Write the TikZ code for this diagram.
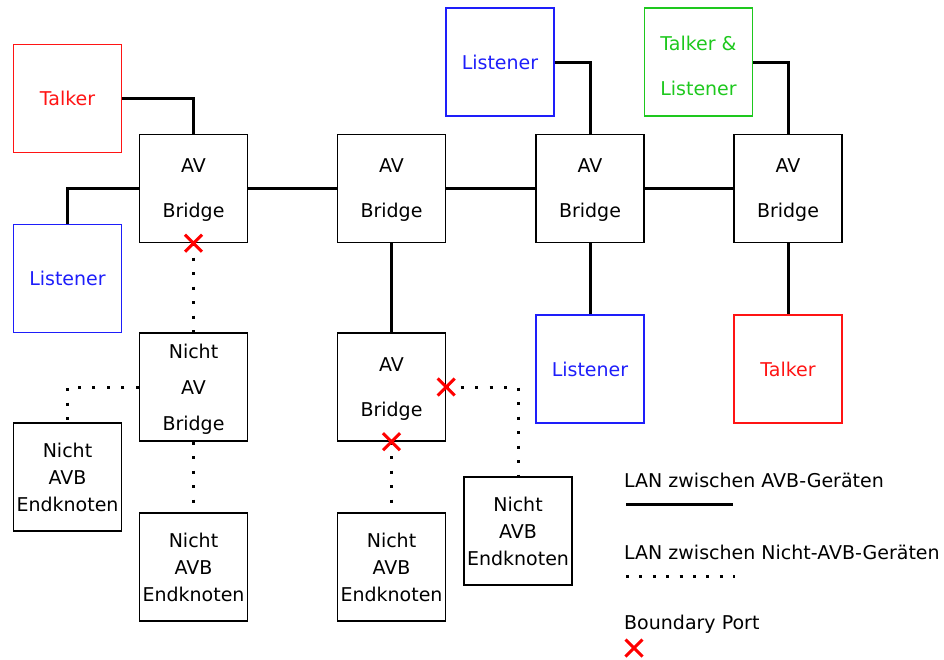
\documentclass[tikz,border=0pt]{standalone}
\usepackage{fontspec}
\setmainfont{DejaVu Sans}
\usetikzlibrary{shapes.misc}
\definecolor{tkred}{RGB}{255,20,20}
\definecolor{lsblue}{RGB}{30,30,250}
\definecolor{tlgreen}{RGB}{30,200,30}
\tikzset{
  dev/.style={draw, line width=1.4pt, minimum width=108pt, minimum height=108pt,
    inner sep=0pt, align=center, font=\fontsize{19}{45}\selectfont},
  bridgebox/.style={dev, text depth=0pt},
  mid/.style={font=\fontsize{19}{36}\selectfont, text depth=0pt},
  tight/.style={font=\fontsize{19}{27}\selectfont},
  talkerbox/.style={dev, line width=1.2pt, draw=tkred, text=tkred},
  listenerbox/.style={dev, line width=1.2pt, draw=lsblue, text=lsblue},
  bothbox/.style={dev, line width=1.2pt, draw=tlgreen, text=tlgreen,
    text height=66pt, text depth=0pt},
  lan/.style={line width=3pt},
  nonavb/.style={line width=3pt, dash pattern=on 3pt off 11.5pt},
  bport/.style={cross out, draw=red, line width=3pt, minimum size=14pt, inner sep=0pt},
  legtext/.style={anchor=west, inner sep=0pt, font=\fontsize{19}{22}\selectfont}
}
\begin{document}
\begin{tikzpicture}[x=1pt, y=-1pt]
\useasboundingbox (0,0) rectangle (944,659);

% devices
\node[talkerbox] (talkerA) at (67.5,98.5) {Talker};
\node[bridgebox] (br1) at (193.5,188.5) {AV\\Bridge};
\node[listenerbox] (lisA) at (67.5,278.5) {Listener};
\node[bridgebox] (br2) at (391.5,188.5) {AV\\Bridge};
\node[listenerbox] (lisB) at (500,62) {Listener};
\node[bridgebox] (br3) at (590,188.5) {AV\\Bridge};
\node[bothbox] (tl) at (698.5,62) {Talker \&\\Listener};
\node[bridgebox] (br4) at (788,188.5) {AV\\Bridge};
\node[listenerbox] (lisC) at (590,369) {Listener};
\node[talkerbox] (talkerB) at (788,369) {Talker};
\node[dev, mid] (nab) at (193.5,387) {Nicht\\AV\\Bridge};
\node[dev, tight] (endA) at (67.5,477) {Nicht\\AVB\\Endknoten};
\node[dev, tight] (endB) at (193.5,567) {Nicht\\AVB\\Endknoten};
\node[bridgebox] (br5) at (391.5,387) {AV\\Bridge};
\node[dev, tight] (endC) at (391.5,567) {Nicht\\AVB\\Endknoten};
\node[dev, tight] (endD) at (518,531) {Nicht\\AVB\\Endknoten};

% AVB links
\draw[lan] (talkerA.east) -| (br1.north);
\draw[lan] (lisA.north) |- (br1.west);
\draw[lan] (br1.east) -- (br2.west);
\draw[lan] (br2.east) -- (br3.west);
\draw[lan] (br3.east) -- (br4.west);
\draw[lan] (lisB.east) -| (br3.north);
\draw[lan] (tl.east) -| (br4.north);
\draw[lan] (br3.south) -- (lisC.north);
\draw[lan] (br4.south) -- (talkerB.north);
\draw[lan] (br2.south) -- (br5.north);

% non-AVB links
\draw[nonavb] (br1.south) -- (nab.north);
\draw[nonavb] (nab.west) -| (endA.north);
\draw[nonavb] (nab.south) -- (endB.north);
\draw[nonavb] (br5.south) -- (endC.north);
\draw[nonavb] (br5.east) -| (endD.north);

% boundary ports
\node[bport] (bp1) at (br1.south) {};
\node[bport] (bp2) at (br5.south) {};
\node[bport] (bp3) at (br5.east) {};

% legend
\node[legtext] (lg1) at (624,480) {LAN zwischen AVB-Geräten};
\coordinate (l1a) at (626,504);
\coordinate (l1b) at (733,504);
\draw[lan] (l1a) -- (l1b);
\node[legtext] (lg2) at (624,552) {LAN zwischen Nicht-AVB-Geräten};
\coordinate (l2a) at (626,576);
\coordinate (l2b) at (735,576);
\draw[line width=3pt, dash pattern=on 3pt off 10.4pt] (l2a) -- (l2b);
\node[legtext] (lg3) at (624,624) {Boundary Port};
\node[bport] (bp4) at (634,648) {};
\end{tikzpicture}
\end{document}
